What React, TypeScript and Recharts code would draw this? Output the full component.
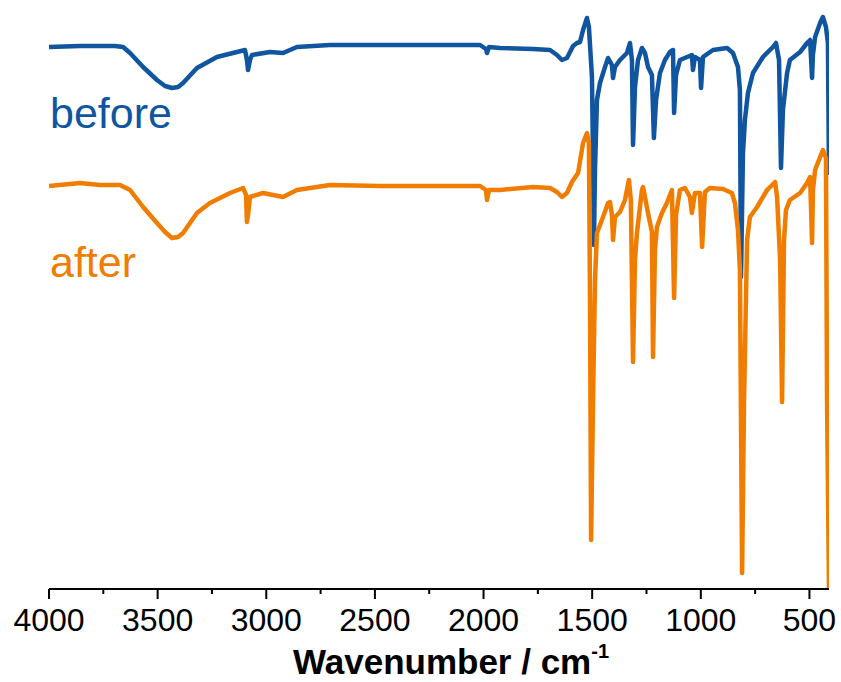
import React from "react";
import { LineChart, Line, XAxis, YAxis, Label } from "recharts";

// Wavenumbers (cm^-1) and signal (arbitrary units, offset traces) for "before"
const beforeWavenumbers = [
  4000, 3857, 3765, 3696, 3659, 3627, 3567, 3503, 3466, 3434, 3406, 3383, 3319, 3227, 3135, 3098,
  3089, 3084, 3075, 3066, 2983, 2923, 2859, 2707, 2477, 2246, 2016, 1989, 1984, 1975, 1924, 1772,
  1694, 1662, 1639, 1616, 1588, 1570, 1556, 1542, 1524, 1515, 1501, 1496, 1492, 1487, 1478, 1464,
  1441, 1427, 1409, 1404, 1395, 1372, 1340, 1326, 1317, 1312, 1308, 1303, 1289, 1271, 1257, 1243,
  1225, 1216, 1206, 1188, 1165, 1142, 1128, 1123, 1114, 1096, 1041, 1036, 1027, 1004, 999, 990,
  944, 879, 852, 829, 820, 815, 806, 797, 783, 760, 714, 668, 654, 640, 631, 622,
  603, 590, 543, 511, 497, 488, 484, 474, 451, 438, 424, 415, 410,
];
const beforeValues = [
  542, 543, 543, 543, 542, 536, 522, 509, 503, 501, 502, 506, 521, 532, 537, 539,
  529, 519, 529, 534, 537, 536, 542, 544, 544, 544, 544, 540, 536, 542, 541, 540,
  539, 534, 529, 531, 543, 546, 547, 559, 571, 562, 512, 429, 344, 419, 489, 506,
  522, 531, 524, 511, 522, 529, 536, 546, 529, 444, 469, 502, 529, 541, 536, 522,
  514, 451, 489, 516, 529, 537, 539, 476, 514, 529, 534, 519, 532, 529, 501, 532,
  539, 541, 536, 522, 499, 312, 436, 469, 496, 516, 532, 542, 546, 529, 421, 479,
  516, 529, 537, 546, 549, 511, 534, 552, 566, 572, 562, 546, 414,
];

// "after"
const afterWavenumbers = [
  4000, 3857, 3765, 3673, 3627, 3567, 3503, 3466, 3434, 3406, 3383, 3319, 3259, 3167, 3107, 3093,
  3089, 3084, 3075, 3015, 2923, 2859, 2707, 2477, 2246, 2016, 1989, 1984, 1975, 1924, 1772, 1694,
  1662, 1639, 1616, 1593, 1565, 1542, 1524, 1515, 1510, 1505, 1496, 1487, 1478, 1450, 1427, 1418,
  1409, 1404, 1395, 1372, 1349, 1331, 1322, 1317, 1312, 1303, 1294, 1271, 1266, 1243, 1225, 1220,
  1211, 1202, 1179, 1156, 1133, 1123, 1114, 1096, 1073, 1050, 1041, 1027, 1004, 994, 981, 958,
  898, 857, 843, 829, 820, 810, 801, 787, 774, 741, 695, 658, 649, 635, 626, 617,
  608, 590, 543, 511, 497, 488, 484, 474, 451, 438, 424, 419, 410,
];
const afterValues = [
  403, 406, 404, 404, 399, 382, 366, 357, 351, 352, 356, 376, 386, 396, 401, 394,
  367, 374, 392, 396, 392, 399, 404, 403, 403, 403, 399, 389, 399, 399, 402, 401,
  397, 392, 396, 407, 416, 446, 456, 446, 289, 49, 189, 309, 356, 372, 386, 387,
  374, 349, 372, 377, 389, 409, 389, 309, 227, 329, 356, 399, 402, 376, 357, 232,
  339, 362, 376, 386, 399, 291, 374, 399, 401, 392, 376, 396, 396, 342, 397, 401,
  400, 396, 386, 359, 319, 16, 189, 349, 372, 382, 399, 407, 392, 329, 187, 349,
  379, 389, 396, 406, 412, 346, 399, 419, 432, 439, 431, 189, 0,
];

const xTicks = [4000, 3750, 3500, 3250, 3000, 2750, 2500, 2250, 2000, 1750, 1500, 1250, 1000, 750, 500];
const seriesNames = ["before", "after"];

const beforeData = beforeWavenumbers.map((w, i) => ({ w, v: beforeValues[i] }));
const afterData = afterWavenumbers.map((w, i) => ({ w, v: afterValues[i] }));

const BLUE = "#10559F";
const ORANGE = "#F07D00";
const FONT = "'Liberation Sans', Arial, sans-serif";

const TICK_SIZE = 10;
const TICK_MARGIN = 9;

const AxisTick = (props: any) => {
  const { x, y, payload } = props;
  const value = payload.value;
  const major = value % 500 === 0;
  const axisY = y - TICK_SIZE - TICK_MARGIN;
  return (
    <g>
      <line x1={x} x2={x} y1={axisY} y2={axisY + (major ? 10 : 5)} stroke="#000" strokeWidth={2} />
      {major && (
        <text x={x} y={y} dy="0.71em" textAnchor="middle" fontFamily={FONT} fontSize={32} fill="#000">
          {value}
        </text>
      )}
    </g>
  );
};

const Annotations = () => (
  <g>
    <text x={293} y={674} fontFamily={FONT} fontSize={35} fontWeight="bold" fill="#000">
      Wavenumber / cm
      <tspan fontSize={20} dy={-16}>-1</tspan>
    </text>
    <text x={50} y={128} fontFamily={FONT} fontSize={43} fill={BLUE}>
      {seriesNames[0]}
    </text>
    <text x={50} y={277} fontFamily={FONT} fontSize={43} fill={ORANGE}>
      {seriesNames[1]}
    </text>
  </g>
);

export default function App() {
  return (
    <div style={{ position: "absolute", left: 0, top: 0, width: 841, height: 682, background: "#fff" }}>
      <LineChart width={841} height={682} margin={{ top: 9, right: 12, left: 49, bottom: 0 }}>
        <XAxis
          dataKey="w"
          type="number"
          domain={[410, 4000]}
          reversed
          allowDataOverflow
          ticks={xTicks}
          interval={0}
          height={93}
          tickSize={TICK_SIZE}
          tickMargin={TICK_MARGIN}
          tickLine={false}
          tick={<AxisTick />}
          axisLine={{ stroke: "#000", strokeWidth: 2 }}
        >
          <Label content={() => <Annotations />} />
        </XAxis>
        <YAxis type="number" domain={[0, 580]} hide allowDataOverflow />
        <Line
          data={beforeData}
          dataKey="v"
          name={seriesNames[0]}
          stroke={BLUE}
          strokeWidth={4.5}
          strokeLinejoin="round"
          dot={false}
          isAnimationActive={false}
          type="linear"
        />
        <Line
          data={afterData}
          dataKey="v"
          name={seriesNames[1]}
          stroke={ORANGE}
          strokeWidth={4.5}
          strokeLinejoin="round"
          dot={false}
          isAnimationActive={false}
          type="linear"
        />
      </LineChart>
    </div>
  );
}
